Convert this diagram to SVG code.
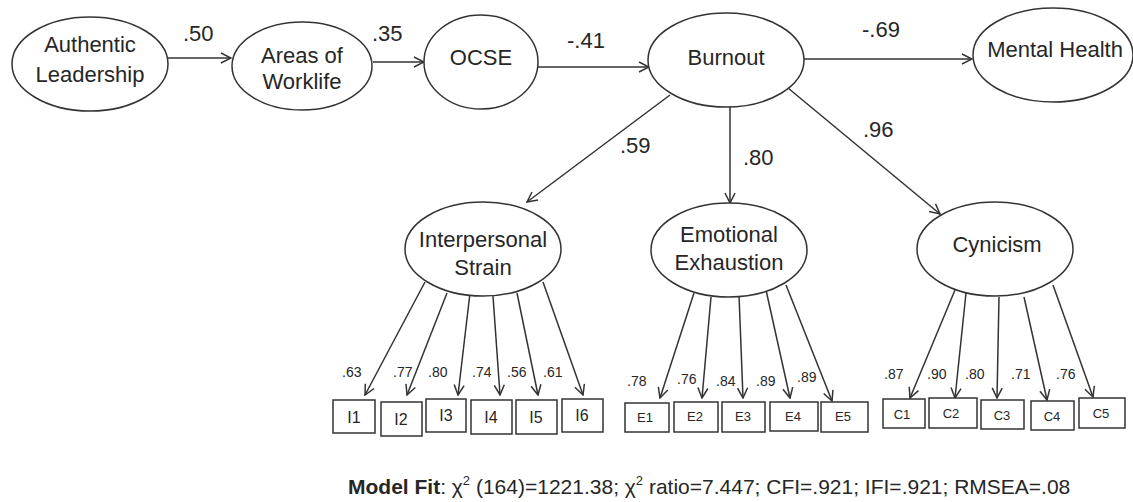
<svg xmlns="http://www.w3.org/2000/svg" width="1133" height="502" viewBox="0 0 1133 502">
<style>
  .bg { fill: #ffffff; }
  .node ellipse { fill: #ffffff; stroke: #333333; stroke-width: 1.5; }
  .box rect { fill: #ffffff; stroke: #333333; stroke-width: 1.5; }
  .lt { font-family: "Liberation Sans", Arial, sans-serif; font-size: 22px; fill: #262626; text-anchor: middle; }
  .bt { font-family: "Liberation Sans", Arial, sans-serif; font-size: 16px; fill: #262626; text-anchor: middle; }
  .bt2 { font-family: "Liberation Sans", Arial, sans-serif; font-size: 13px; fill: #262626; text-anchor: middle; }
  .coef { font-family: "Liberation Sans", Arial, sans-serif; font-size: 22px; fill: #262626; }
  .load { font-family: "Liberation Sans", Arial, sans-serif; font-size: 14px; fill: #262626; }
  .conn line { stroke: #333333; stroke-width: 1.5; fill: none; marker-end: url(#arr); }
  .fit { font-family: "Liberation Sans", Arial, sans-serif; font-size: 21px; fill: #262626; }
</style>
<defs>
  <marker id="arr" viewBox="0 0 12 12" refX="11" refY="6" markerWidth="12" markerHeight="12" markerUnits="userSpaceOnUse" orient="auto">
    <path d="M1,1 L11,6 L1,11" fill="none" stroke="#333333" stroke-width="1.5"/>
  </marker>
</defs>
<rect class="bg" x="0" y="0" width="1133" height="502"/>

<g id="connectors" class="conn">
  <line x1="168" y1="58" x2="231" y2="58"/>
  <line x1="373" y1="62" x2="424" y2="62"/>
  <line x1="538" y1="67" x2="649" y2="67"/>
  <line x1="804" y1="59" x2="972" y2="59"/>
  <line x1="670" y1="95" x2="527" y2="202"/>
  <line x1="730" y1="107" x2="730" y2="203"/>
  <line x1="788" y1="88" x2="940" y2="214"/>
  <line x1="425" y1="282" x2="365" y2="395"/>
  <line x1="447" y1="293" x2="407" y2="395"/>
  <line x1="470" y1="293" x2="458" y2="395"/>
  <line x1="493" y1="296" x2="500" y2="395"/>
  <line x1="517" y1="293" x2="538" y2="395"/>
  <line x1="543" y1="282" x2="583" y2="395"/>
  <line x1="694" y1="293" x2="660" y2="398"/>
  <line x1="711" y1="297" x2="702" y2="398"/>
  <line x1="739" y1="295" x2="743" y2="398"/>
  <line x1="766" y1="290" x2="790" y2="398"/>
  <line x1="786" y1="285" x2="832" y2="401"/>
  <line x1="955" y1="290" x2="910" y2="398"/>
  <line x1="966" y1="293" x2="955" y2="398"/>
  <line x1="999" y1="297" x2="997" y2="398"/>
  <line x1="1024" y1="297" x2="1047" y2="400"/>
  <line x1="1053" y1="285" x2="1093" y2="397"/>
</g>

<g id="path-labels">
  <text class="coef" x="183" y="41">.50</text>
  <text class="coef" x="372" y="41">.35</text>
  <text class="coef" x="567" y="48">-.41</text>
  <text class="coef" x="862" y="37">-.69</text>
  <text class="coef" x="620" y="153">.59</text>
  <text class="coef" x="743" y="165">.80</text>
  <text class="coef" x="863" y="137">.96</text>
  <text class="load" x="342" y="377">.63</text>
  <text class="load" x="393" y="377">.77</text>
  <text class="load" x="428" y="377">.80</text>
  <text class="load" x="472" y="377">.74</text>
  <text class="load" x="507" y="377">.56</text>
  <text class="load" x="543" y="377">.61</text>
  <text class="load" x="627" y="386">.78</text>
  <text class="load" x="677" y="384">.76</text>
  <text class="load" x="716" y="386">.84</text>
  <text class="load" x="756" y="386">.89</text>
  <text class="load" x="797" y="382">.89</text>
  <text class="load" x="884" y="379">.87</text>
  <text class="load" x="927" y="379">.90</text>
  <text class="load" x="965" y="379">.80</text>
  <text class="load" x="1011" y="379">.71</text>
  <text class="load" x="1056" y="379">.76</text>
</g>

<g id="authentic-leadership" class="node">
  <ellipse cx="90" cy="64" rx="78" ry="47"/>
  <text class="lt" x="90" y="52">Authentic</text>
  <text class="lt" x="90" y="82">Leadership</text>
</g>
<g id="areas-of-worklife" class="node">
  <ellipse cx="302" cy="66" rx="70" ry="44"/>
  <text class="lt" x="302" y="63">Areas of</text>
  <text class="lt" x="302" y="89">Worklife</text>
</g>
<g id="ocse" class="node">
  <ellipse cx="481" cy="62" rx="57" ry="47"/>
  <text class="lt" x="481" y="65">OCSE</text>
</g>
<g id="burnout" class="node">
  <ellipse cx="726" cy="60" rx="78" ry="47"/>
  <text class="lt" x="726" y="65">Burnout</text>
</g>
<g id="mental-health" class="node">
  <ellipse cx="1053" cy="55" rx="80" ry="47"/>
  <text class="lt" x="1055" y="57">Mental Health</text>
</g>
<g id="interpersonal-strain" class="node">
  <ellipse cx="483" cy="249" rx="78" ry="47"/>
  <text class="lt" x="483" y="247">Interpersonal</text>
  <text class="lt" x="483" y="275">Strain</text>
</g>
<g id="emotional-exhaustion" class="node">
  <ellipse cx="729" cy="250" rx="78" ry="47"/>
  <text class="lt" x="729" y="242">Emotional</text>
  <text class="lt" x="729" y="270">Exhaustion</text>
</g>
<g id="cynicism" class="node">
  <ellipse cx="995" cy="249" rx="78" ry="47"/>
  <text class="lt" x="997" y="252">Cynicism</text>
</g>

<g id="I1" class="box"><rect x="333" y="400" width="42" height="33"/><text class="bt" x="354" y="423">I1</text></g>
<g id="I2" class="box"><rect x="381" y="402" width="41" height="34"/><text class="bt" x="401" y="425">I2</text></g>
<g id="I3" class="box"><rect x="426" y="399" width="40" height="33"/><text class="bt" x="446" y="421">I3</text></g>
<g id="I4" class="box"><rect x="471" y="400" width="41" height="34"/><text class="bt" x="491" y="423">I4</text></g>
<g id="I5" class="box"><rect x="516" y="400" width="41" height="34"/><text class="bt" x="536" y="423">I5</text></g>
<g id="I6" class="box"><rect x="562" y="399" width="41" height="33"/><text class="bt" x="582" y="421">I6</text></g>

<g id="E1" class="box"><rect x="625" y="403" width="44" height="29"/><text class="bt2" x="645" y="422">E1</text></g>
<g id="E2" class="box"><rect x="674" y="402" width="44" height="30"/><text class="bt2" x="695" y="421">E2</text></g>
<g id="E3" class="box"><rect x="722" y="402" width="43" height="30"/><text class="bt2" x="743" y="421">E3</text></g>
<g id="E4" class="box"><rect x="770" y="402" width="48" height="29"/><text class="bt2" x="793" y="421">E4</text></g>
<g id="E5" class="box"><rect x="821" y="402" width="47" height="30"/><text class="bt2" x="843" y="421">E5</text></g>

<g id="C1" class="box"><rect x="883" y="399" width="42" height="29"/><text class="bt2" x="902" y="419">C1</text></g>
<g id="C2" class="box"><rect x="929" y="398" width="48" height="30"/><text class="bt2" x="951" y="418">C2</text></g>
<g id="C3" class="box"><rect x="981" y="400" width="43" height="29"/><text class="bt2" x="1002" y="420">C3</text></g>
<g id="C4" class="box"><rect x="1031" y="401" width="43" height="29"/><text class="bt2" x="1052" y="421">C4</text></g>
<g id="C5" class="box"><rect x="1079" y="398" width="46" height="30"/><text class="bt2" x="1101" y="418">C5</text></g>

<g id="model-fit">
  <text class="fit" x="348" y="494"><tspan font-weight="bold">Model Fit</tspan>: χ<tspan font-size="13" dy="-9">2</tspan><tspan dy="9"> (164)=1221.38; χ</tspan><tspan font-size="13" dy="-9">2</tspan><tspan dy="9"> ratio=7.447; CFI=.921; IFI=.921; RMSEA=.08</tspan></text>
</g>
</svg>
